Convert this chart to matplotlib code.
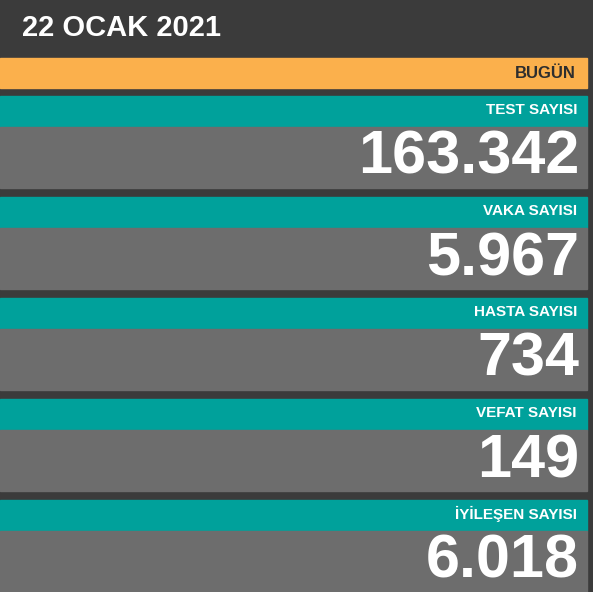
import matplotlib
matplotlib.use("Agg")
import matplotlib.pyplot as plt
from matplotlib.patches import Rectangle

title = "22 OCAK 2021"
header = "BUGÜN"
labels = ["TEST SAYISI", "VAKA SAYISI", "HASTA SAYISI", "VEFAT SAYISI", "İYİLEŞEN SAYISI"]
values = ["163.342", "5.967", "734", "149", "6.018"]

W, H = 593, 592
fig = plt.figure(figsize=(W/100, H/100), dpi=100, facecolor="#3b3b3b")
ax = fig.add_axes([0, 0, 1, 1])
ax.set_xlim(0, W); ax.set_ylim(H, 0); ax.axis("off")
ax.set_facecolor("#3b3b3b")

ax.text(22, 28, title, color="white", fontsize=21, fontweight="bold",
        family="Liberation Sans", va="center", ha="left")
ax.add_patch(Rectangle((0, 58), 587, 30, color="#fbb04c"))
ax.text(576, 74, header, color="#2e2e2e", fontsize=12, fontweight="bold",
        family="Liberation Sans", va="center", ha="right")

for i, (lab, val) in enumerate(zip(labels, values)):
    top = 96 + 101 * i
    ax.add_patch(Rectangle((0, top), 587, 31, color="#00a19b"))
    ax.add_patch(Rectangle((0, top + 31), 587, 61, color="#6d6d6d"))
    ax.text(577, top + 14, lab, color="white", fontsize=11, fontweight="bold",
            family="Liberation Sans", va="center", ha="right")
    ax.text(579, top + 78, val, color="white", fontsize=44, fontweight="bold",
            family="Liberation Sans", va="baseline", ha="right")

fig.savefig("out.png", dpi=100, facecolor=fig.get_facecolor())
